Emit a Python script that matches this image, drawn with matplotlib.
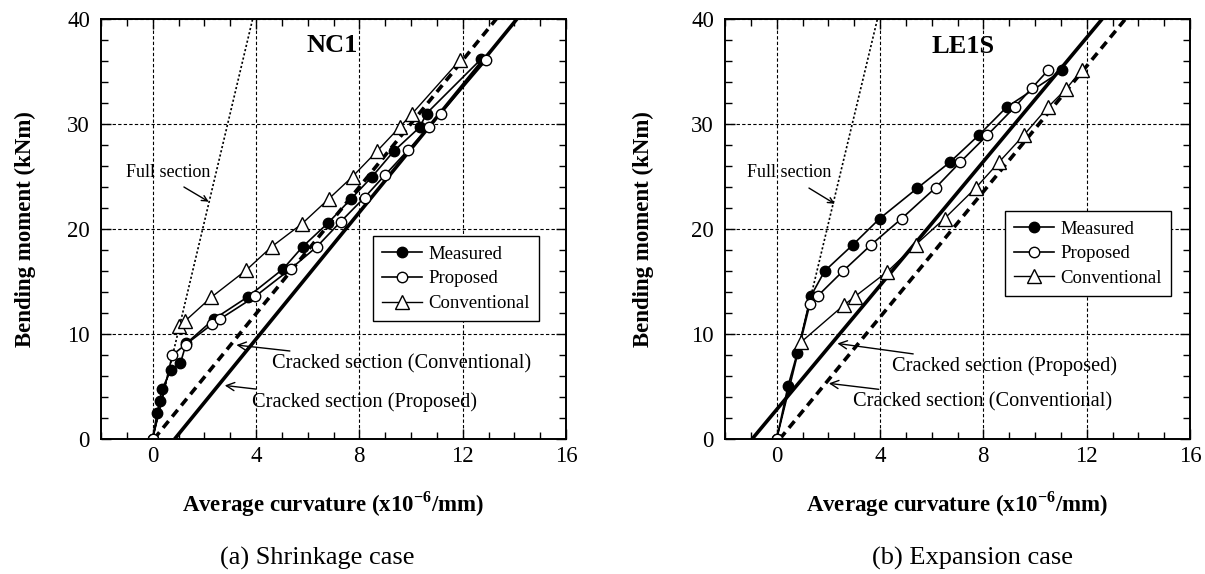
import matplotlib
matplotlib.use("Agg")
import matplotlib.pyplot as plt
from matplotlib.ticker import MultipleLocator

plt.rcParams['font.family'] = ['Liberation Serif', 'DejaVu Serif']
plt.rcParams['mathtext.fontset'] = 'custom'
plt.rcParams['mathtext.rm'] = 'Liberation Serif'
plt.rcParams['mathtext.bf'] = 'Liberation Serif:bold'

# ---- (a) Shrinkage case, NC1 ----
nc1_meas_x = [0, 0.17, 0.27, 0.37, 0.72, 1.07, 1.3, 2.36, 3.69, 5.05, 5.8, 6.8, 7.69, 8.5, 9.33, 10.34, 10.6, 12.72]
nc1_meas_y = [0, 2.5, 3.6, 4.8, 6.6, 7.2, 9.1, 11.4, 13.55, 16.2, 18.3, 20.6, 22.9, 25.0, 27.4, 29.7, 31.0, 36.2]
nc1_prop_x = [0, 0.76, 1.28, 2.31, 2.59, 3.98, 5.34, 6.35, 7.28, 8.2, 8.98, 9.88, 10.7, 11.15, 12.92]
nc1_prop_y = [0, 8.0, 9.0, 10.95, 11.4, 13.6, 16.2, 18.3, 20.7, 23.0, 25.1, 27.5, 29.7, 31.0, 36.1]
nc1_conv_x = [1.02, 1.24, 2.27, 3.63, 4.6, 5.78, 6.83, 7.74, 8.68, 9.56, 10.05, 11.9]
nc1_conv_y = [10.8, 11.2, 13.5, 16.1, 18.3, 20.5, 22.9, 25.0, 27.4, 29.7, 31.0, 36.1]
nc1_full_x = [0, 3.87]
nc1_full_y = [0, 40]
nc1_crk_prop_x = [0.85, 14.1]
nc1_crk_prop_y = [0, 40]
nc1_crk_conv_x = [0.05, 13.3]
nc1_crk_conv_y = [0, 40]

# ---- (b) Expansion case, LE1S ----
le1s_meas_x = [0, 0.44, 0.80, 1.32, 1.86, 2.95, 3.99, 5.45, 6.70, 7.83, 8.9, 11.06]
le1s_meas_y = [0, 5.05, 8.2, 13.6, 16.0, 18.5, 21.0, 23.9, 26.35, 28.95, 31.6, 35.1]
le1s_prop_x = [0, 1.29, 1.6, 2.57, 3.66, 4.84, 6.16, 7.1, 8.16, 9.21, 9.87, 10.5]
le1s_prop_y = [0, 12.9, 13.65, 16.0, 18.5, 21.0, 23.95, 26.35, 28.95, 31.6, 33.4, 35.1]
le1s_conv_x = [0.93, 2.6, 3.02, 4.29, 5.38, 6.5, 7.7, 8.6, 9.57, 10.5, 11.19, 11.8]
le1s_conv_y = [9.2, 12.75, 13.55, 15.95, 18.5, 21.0, 23.9, 26.35, 28.95, 31.6, 33.3, 35.1]
le1s_full_x = [0, 3.9]
le1s_full_y = [0, 40]
le1s_crk_prop_x = [-0.95, 12.6]
le1s_crk_prop_y = [0, 40]
le1s_crk_conv_x = [0.12, 13.5]
le1s_crk_conv_y = [0, 40]

fig = plt.figure(figsize=(12.05, 5.74), dpi=100)
ax1 = fig.add_axes([101/1205, 1-439/574, 465/1205, 420/574])
ax2 = fig.add_axes([725/1205, 1-439/574, 465/1205, 420/574])


def draw(ax, full, cprop, cconv, meas, prop, conv):
    ax.plot(full[0], full[1], color='black', lw=1.2, ls=(0, (1.3, 1.3)))
    ax.plot(cprop[0], cprop[1], color='black', lw=2.6, solid_capstyle='butt')
    ax.plot(cconv[0], cconv[1], color='black', lw=2.6, ls=(0, (2.4, 1.6)))
    ax.plot(meas[0], meas[1], color='black', lw=1.2, marker='o', ms=7.5,
            mfc='black', mec='black', label='Measured')
    ax.plot(prop[0], prop[1], color='black', lw=1.2, marker='o', ms=7.5,
            mfc='white', mec='black', label='Proposed')
    ax.plot(conv[0], conv[1], color='black', lw=1.0, marker='^', ms=9.5,
            mfc='white', mec='black', label='Conventional')

    ax.set_xlim(-2, 16)
    ax.set_ylim(0, 40)
    ax.xaxis.set_major_locator(MultipleLocator(4))
    ax.xaxis.set_minor_locator(MultipleLocator(1))
    ax.yaxis.set_major_locator(MultipleLocator(10))
    ax.yaxis.set_minor_locator(MultipleLocator(2))
    ax.set_xticks([0, 4, 8, 12, 16])
    ax.tick_params(which='both', direction='in', top=True, right=True, labelsize=16.5)
    ax.tick_params(which='major', length=7, width=1)
    ax.tick_params(which='minor', length=5, width=1)
    ax.tick_params(axis='y', pad=8)
    ax.tick_params(axis='x', pad=5)
    ax.grid(True, which='major', color='black', lw=0.8, ls=(0, (3, 2)))
    for s in ax.spines.values():
        s.set_linewidth(1.4)

    ax.set_xlabel(r'Average curvature (x10$^{\mathbf{-6}}$/mm)', fontsize=16.5, fontweight='bold')
    ax.set_ylabel('Bending moment (kNm)', fontsize=16.5, fontweight='bold')
    ax.xaxis.set_label_coords(0.5, -0.12)


draw(ax1, (nc1_full_x, nc1_full_y), (nc1_crk_prop_x, nc1_crk_prop_y),
     (nc1_crk_conv_x, nc1_crk_conv_y), (nc1_meas_x, nc1_meas_y),
     (nc1_prop_x, nc1_prop_y), (nc1_conv_x, nc1_conv_y))
draw(ax2, (le1s_full_x, le1s_full_y), (le1s_crk_prop_x, le1s_crk_prop_y),
     (le1s_crk_conv_x, le1s_crk_conv_y), (le1s_meas_x, le1s_meas_y),
     (le1s_prop_x, le1s_prop_y), (le1s_conv_x, le1s_conv_y))
ax1.yaxis.set_label_coords(-0.14, 0.5)
ax2.yaxis.set_label_coords(-0.153, 0.5)

arrow = dict(arrowstyle='->', color='black', lw=1.0, shrinkA=0, shrinkB=0)

# annotations (a)
ax1.text(6.93, 37.5, 'NC1', fontsize=19, fontweight='bold', ha='center', va='center')
ax1.text(0.62, 25.4, 'Full section', fontsize=13, ha='center', va='center')
ax1.annotate('', xy=(2.17, 22.6), xytext=(1.21, 24.0), arrowprops=arrow)
ax1.annotate('Cracked section (Conventional)', xy=(3.24, 8.95), xytext=(4.6, 7.2),
             fontsize=14.7, ha='left', va='center', arrowprops=arrow)
ax1.annotate('Cracked section (Proposed)', xy=(2.79, 5.1), xytext=(3.85, 3.55),
             fontsize=14.7, ha='left', va='center', arrowprops=arrow)

# annotations (b)
ax2.text(7.2, 37.4, 'LE1S', fontsize=19, fontweight='bold', ha='center', va='center')
ax2.text(0.48, 25.4, 'Full section', fontsize=13, ha='center', va='center')
ax2.annotate('', xy=(2.25, 22.4), xytext=(1.25, 23.9), arrowprops=arrow)
ax2.annotate('Cracked section (Proposed)', xy=(2.35, 9.1), xytext=(4.48, 6.9),
             fontsize=14.7, ha='left', va='center', arrowprops=arrow)
ax2.annotate('Cracked section (Conventional)', xy=(2.02, 5.3), xytext=(2.95, 3.55),
             fontsize=14.7, ha='left', va='center', arrowprops=arrow)

for ax, anchor in ((ax1, (8.52, 19.3)), (ax2, (8.84, 21.7))):
    leg = ax.legend(loc='upper left', bbox_to_anchor=anchor, bbox_transform=ax.transData,
                    borderaxespad=0, fancybox=False, framealpha=1, edgecolor='black',
                    fontsize=13.5, handlelength=2.1, labelspacing=0.4, borderpad=0.5,
                    handletextpad=0.35)
    leg.get_frame().set_linewidth(1.0)

fig.text(317/1205, 1-558/574, '(a) Shrinkage case', fontsize=19, ha='center', va='center')
fig.text(972/1205, 1-558/574, '(b) Expansion case', fontsize=19, ha='center', va='center')

fig.savefig('out.png', dpi=100)
